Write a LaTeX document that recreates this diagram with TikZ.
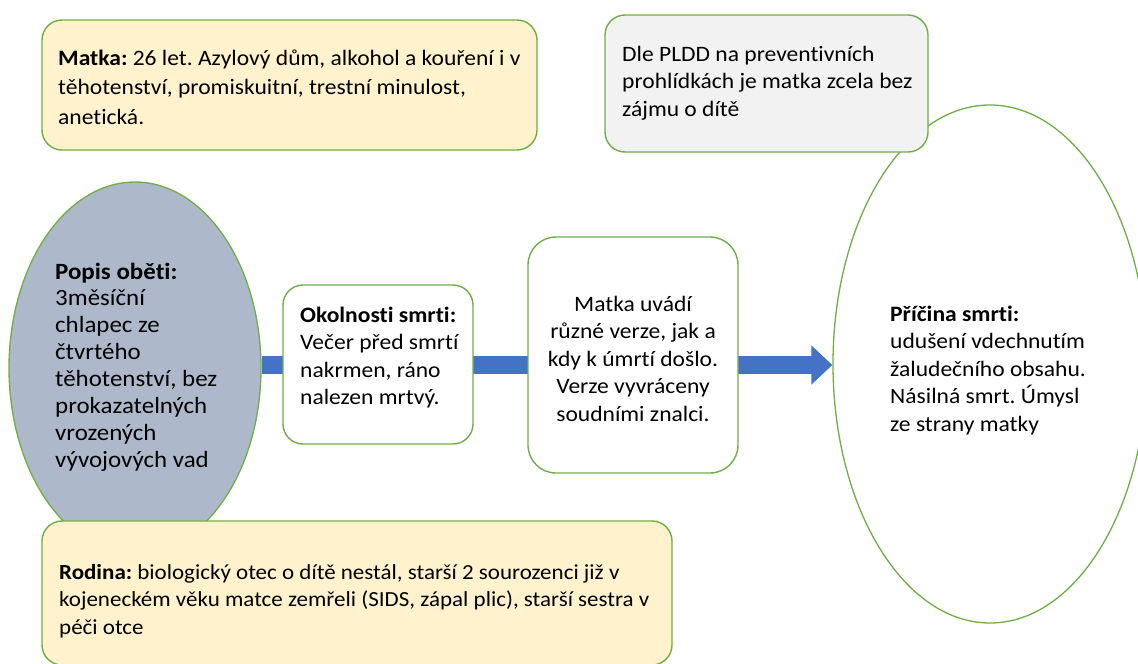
\documentclass[tikz,border=0pt]{standalone}
\usepackage{fontspec}
\setmainfont{Carlito}[Ligatures=NoCommon, FakeStretch=1.07]
\usetikzlibrary{shapes.geometric,arrows.meta}
\definecolor{boxgreen}{HTML}{70AD47}
\definecolor{paleyellow}{HTML}{FFF2CC}
\definecolor{palegray}{HTML}{F2F2F2}
\definecolor{bluegray}{HTML}{ADB9CA}
\definecolor{arrowblue}{HTML}{4472C4}
\tikzset{
  txtfont/.style={font=\fontsize{22}{27.5}\selectfont},
  infobox/.style={draw=boxgreen, line width=1.4pt, rounded corners=20pt, inner sep=0pt},
  oval/.style={ellipse, draw=boxgreen, line width=1.3pt, inner sep=0pt},
  lefttext/.style={anchor=west, align=left, inner sep=0pt, txtfont},
  centertext/.style={align=center, inner sep=0pt, txtfont},
  flow/.style={line width=18pt, draw=arrowblue, -{Triangle[length=21pt 0, width=38pt 0]}}
}
\begin{document}
\frenchspacing
\begin{tikzpicture}[x=1pt, y=-1pt]
\useasboundingbox (0,0) rectangle (1138,664);
% ovals
\node[oval, fill=white, minimum width=314pt, minimum height=518pt] (pricina) at (990,364) {};
\node[oval, fill=bluegray, minimum width=252pt, minimum height=372pt] (obet) at (135,368) {};
% main flow arrow
\draw[flow] (obet.east |- 0,365) -- (pricina.west |- 0,365);
% boxes
\node[infobox, fill=white, minimum width=190pt, minimum height=159pt] (okol) at (378,364.5) {};
\node[infobox, fill=white, rounded corners=28pt, minimum width=210pt, minimum height=236pt] (uvadi) at (633,355) {};
\node[infobox, fill=paleyellow, minimum width=495pt, minimum height=130pt] (matka) at (289.5,85) {};
\node[infobox, fill=palegray, minimum width=323pt, minimum height=137pt] (dle) at (766.5,83.5) {};
\node[infobox, fill=paleyellow, minimum width=630pt, minimum height=144pt] (rodina) at (357,593) {};
% texts
\node[lefttext, font=\fontsize{22}{29.5}\selectfont] (matkatext) at (58,87)
  {\textbf{Matka:} 26 let. Azylový dům, alkohol a kouření i v\\ těhotenství, promiskuitní, trestní minulost,\\ anetická.};
\node[lefttext] (dletext) at (622,83)
  {Dle PLDD na preventivních\\ prohlídkách je matka zcela bez\\ zájmu o dítě};
\node[lefttext] (okoltext) at (300,357.5)
  {\textbf{Okolnosti smrti:}\\ Večer před smrtí\\ nakrmen, ráno\\ nalezen mrtvý.};
\node[centertext] (uvaditext) at (633,358.5)
  {Matka uvádí\\ různé verze, jak a\\ kdy k úmrtí došlo.\\ Verze vyvráceny\\ soudními znalci.};
\node[lefttext, font=\fontsize{21.5}{27.5}\selectfont] (rodinatext) at (59,601)
  {\textbf{Rodina:} biologický otec o dítě nestál, starší 2 sourozenci již v\\ kojeneckém věku matce zemřeli (SIDS, zápal plic), starší sestra v\\ péči otce};
\node[lefttext, font=\fontsize{23.3}{26.9}\selectfont] (obettext) at (55,367)
  {\textbf{Popis oběti:}\\ 3měsíční\\ chlapec ze\\ čtvrtého\\ těhotenství, bez\\ prokazatelných\\ vrozených\\ vývojových vad};
\node[lefttext] (pricinatext) at (890,370.5)
  {\textbf{Příčina smrti:}\\ udušení vdechnutím\\ žaludečního obsahu.\\ Násilná smrt. Úmysl\\ ze strany matky};
\end{tikzpicture}
\end{document}
